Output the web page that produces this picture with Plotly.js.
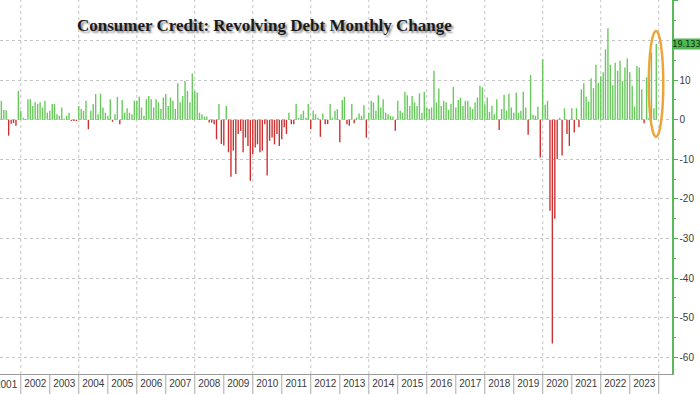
<!DOCTYPE html>
<html>
<head>
<meta charset="utf-8">
<script src="https://cdn.plot.ly/plotly-3.0.1.min.js"></script>
<style>html,body{margin:0;padding:0;background:#fff;}#chart{width:700px;height:394px;}</style>
</head>
<body>
<div id="chart"></div>
<script>
// Monthly change in revolving consumer credit (USD bn), first visible month: Apr 2001
const firstYear = 2001;
const firstMonth = 4;
const v2001 = [4.8, 2.5, 2.4, -4.0, -1.0, -0.8, -1.5, 7.3, 2.3];
const v2002 = [0.5, 0.2, 5.2, 5.2, 3.5, 4.4, 4.0, 4.4, 3.1, 4.8, 1.8, 2.3];
const v2003 = [4.0, 4.0, 1.4, 1.0, 3.1, 0.3, 1.0, 1.8, -0.3, -0.3, -0.3, 3.5];
const v2004 = [2.7, 2.3, 4.8, -2.4, 2.3, 4.0, 6.5, 1.4, 6.6, 3.1, 1.8, 1.0];
const v2005 = [5.2, -0.5, 1.4, 5.8, -1.1, 5.0, 1.8, 2.9, 1.8, 1.4, 4.8, 4.8];
const v2006 = [5.8, 3.1, 1.0, 5.2, 6.0, 5.2, 3.1, 5.2, 4.4, 2.7, 5.6, 6.5];
const v2007 = [3.5, 5.6, 4.8, 2.7, 9.2, 4.4, 6.0, 9.8, 7.3, 4.4, 11.7, 7.3];
const v2008 = [6.9, 1.8, 1.4, 0.8, 0.8, -0.7, -0.7, -1.1, -4.9, 4.0, -6.1, -6.5];
const v2009 = [3.5, -8.2, -14.4, -7.8, -13.7, -3.6, -2.8, -8.2, -4.5, -6.6, -15.4, -8.7];
const v2010 = [-7.0, -6.2, -8.2, -7.8, -1.1, -14.1, -5.3, -4.5, -6.2, -3.6, -6.6, -4.9];
const v2011 = [-1.9, -3.6, 1.8, -1.1, -1.1, 4.0, 0.5, 1.4, 2.3, 0.5, 4.0, -2.4];
const v2012 = [2.3, 1.4, 0.5, -4.3, 1.6, -1.1, -1.1, 4.0, 0.5, 2.3, 2.7, -5.7];
const v2013 = [5.0, 5.8, -1.1, -1.5, 4.0, -0.9, 0.6, 1.6, 1.0, 3.7, -4.5, 1.8];
const v2014 = [4.8, 4.4, 2.3, 6.2, 3.1, 5.2, 1.8, 1.4, 1.0, 0.8, -2.8, 4.8];
const v2015 = [2.3, 1.8, 7.1, 6.2, 3.5, 6.0, 4.4, 3.5, 6.7, 1.8, 7.1, 3.1];
const v2016 = [2.7, 3.1, 12.4, 4.4, 7.9, 3.5, 4.8, 4.4, 2.5, 4.0, 8.3, 3.1];
const v2017 = [5.0, 5.6, 3.5, 4.8, 4.8, 3.3, 2.7, 4.4, 5.6, 8.6, 8.2, 3.9];
const v2018 = [5.6, 2.0, 3.5, 1.4, 5.2, -2.6, 2.7, 6.3, 2.3, 6.6, 3.1, 1.8];
const v2019 = [6.9, 1.8, 2.3, 7.1, 3.1, -3.8, 11.3, 1.3, 1.0, 3.3, -9.5, 15.3];
const v2020 = [3.8, 4.8, -23.0, -56.5, -25.0, -9.9, 0.5, -9.0, 2.9, -3.6, -6.6, 2.9];
const v2021 = [-3.2, 2.9, -1.8, 7.7, 9.2, 5.8, 4.6, 10.5, 8.0, 13.9, 9.3, 11.0];
const v2022 = [12.0, 17.8, 23.1, 13.9, 8.7, 14.4, 12.4, 14.9, 9.8, 13.2, 15.5, 12.0];
const v2023 = [8.6, 3.3, 13.6, 13.2, 7.7, -0.9, 10.7, 0.5, 17.0, 2.9, 19.133];
const yearValues = [v2001, v2002, v2003, v2004, v2005, v2006, v2007, v2008, v2009, v2010, v2011, v2012,
                    v2013, v2014, v2015, v2016, v2017, v2018, v2019, v2020, v2021, v2022, v2023];
const yTicks = [30, 20, 10, 0, -10, -20, -30, -40, -50, -60];
const yTickText = ['30', '', '10', '0', '-10', '-20', '-30', '-40', '-50', '-60'];
const gridYears = [2002, 2004, 2006, 2008, 2010, 2012, 2014, 2016, 2018, 2020, 2022, 2024];
const sepYears = [2002, 2003, 2004, 2005, 2006, 2007, 2008, 2009, 2010, 2011, 2012, 2013, 2014, 2015, 2016, 2017, 2018, 2019, 2020, 2021, 2022, 2023, 2024];
const firstYearLabel = '2001';
const titleText = 'Consumer Credit: Revolving Debt Monthly Change';

const pad = n => (n < 10 ? '0' : '') + n;
const xs = [], ys = [];
yearValues.forEach((arr, k) => {
  const yr = firstYear + k;
  const m0 = k === 0 ? firstMonth : 1;
  arr.forEach((v, j) => { xs.push(yr + '-' + pad(m0 + j) + '-01'); ys.push(v); });
});
const colors = ys.map(v => v >= 0 ? '#66c95a' : '#cc2f2f');

const lastX = xs[xs.length - 1];
const lastY = ys[ys.length - 1];
const lastEnd = new Date(lastX + 'T00:00:00Z'); lastEnd.setUTCMonth(lastEnd.getUTCMonth() + 1);
const dayMs = 86400000;
const iso = d => d.toISOString().slice(0, 10);
const ell0 = new Date(lastEnd.getTime() - 95 * dayMs);
const ell1 = new Date(lastEnd.getTime() + 88 * dayMs);

const shapes = [];
gridYears.forEach(y => shapes.push({type: 'line', xref: 'x', yref: 'paper', x0: y + '-01-01', x1: y + '-01-01', y0: 0, y1: 1,
  line: {color: '#c4c4c4', width: 1, dash: 'dot'}, layer: 'below'}));
sepYears.forEach(y => shapes.push({type: 'line', xref: 'x', yref: 'paper', x0: y + '-01-01', x1: y + '-01-01', y0: 0, y1: -0.06,
  line: {color: '#a8a8a8', width: 1}}));
shapes.push({type: 'circle', xref: 'x', yref: 'y', x0: iso(ell0), x1: iso(ell1), y0: -4.3, y1: lastY + 3.3,
  line: {color: '#eda53a', width: 2.5}});

const trace = {
  type: 'bar', x: xs, y: ys, xperiod: 'M1', xperiodalignment: 'end',
  marker: {color: colors, line: {width: 0}}, hoverinfo: 'x+y'
};

const tickFont = {family: 'Liberation Sans, Arial, sans-serif', size: 10, color: '#3a3a3a'};

const layout = {
  width: 700, height: 394,
  margin: {l: 0, r: 28, t: 0, b: 20, pad: 0},
  paper_bgcolor: '#ffffff', plot_bgcolor: '#ffffff',
  bargap: 0.38, showlegend: false,
  title: {text: titleText, x: 77 / 700, xanchor: 'left', y: 1 - 25 / 394, yanchor: 'middle',
    font: {family: 'Liberation Serif, Times New Roman, serif', size: 17, weight: 'bold', color: '#1a1a1a',
      shadow: '2px 2px 2px rgba(0,0,0,0.45)'}},
  xaxis: {
    type: 'date', range: ['2001-04-14', '2024-06-16'],
    dtick: 'M12', tick0: '2001-01-01', tickformat: '%Y', ticklabelmode: 'period',
    ticks: '', showgrid: false, zeroline: false,
    showline: true, linecolor: '#9a9a9a', linewidth: 1,
    tickfont: tickFont, automargin: false, fixedrange: true
  },
  yaxis: {
    side: 'right', range: [-64.2, 30.25], tickvals: yTicks, ticktext: yTickText,
    ticks: 'outside', ticklen: 4, tickcolor: '#4caf50', tickwidth: 1,
    minor: {dtick: 5, ticks: 'outside', ticklen: 2, tickcolor: '#4caf50', showgrid: false},
    showgrid: true, gridcolor: '#c4c4c4', griddash: 'dot', gridwidth: 1,
    zeroline: false, showline: true, linecolor: '#5cb85c', linewidth: 1.5,
    tickfont: tickFont, automargin: false, fixedrange: true
  },
  shapes: shapes,
  annotations: [{
    xref: 'paper', x: 1, xanchor: 'left', xshift: 0, yref: 'y', y: lastY, yanchor: 'middle',
    text: String(lastY), showarrow: false, bgcolor: '#4fb84f', borderpad: 0, width: 27,
    font: {family: 'Liberation Sans Narrow, DejaVu Sans Condensed, Liberation Sans, sans-serif', size: 9, color: '#0f2f0f'}
  }, {
    xref: 'x', x: '2001-07-02', xanchor: 'center', yref: 'paper', y: 0, yanchor: 'top', yshift: -3,
    text: firstYearLabel, showarrow: false, font: tickFont
  }]
};

Plotly.newPlot('chart', [trace], layout, {displayModeBar: false, staticPlot: true});
</script>
</body>
</html>
